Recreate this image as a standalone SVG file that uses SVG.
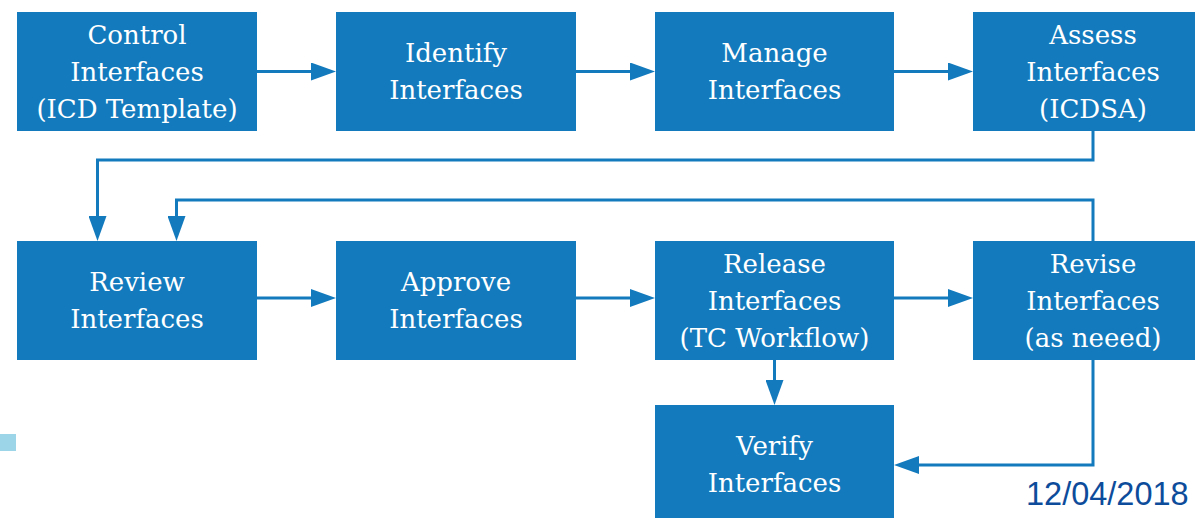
<svg xmlns="http://www.w3.org/2000/svg" width="1195" height="518" viewBox="0 0 1195 518">
<style>
.box{fill:#127abd;}
.t{fill:#ffffff;font-family:"DejaVu Serif","Liberation Serif",serif;font-size:26px;text-anchor:middle;}
.c{fill:none;stroke:#127abd;stroke-width:3;}
.date{fill:#0d4c9b;font-family:"Liberation Sans",Arial,sans-serif;font-size:32.5px;}
</style>
<defs>
<marker id="ah" viewBox="0 0 25 18" refX="15" refY="9" markerWidth="25" markerHeight="18" markerUnits="userSpaceOnUse" orient="auto">
<path d="M0,0 L25,9 L0,18 z" fill="#127abd"/>
</marker>
</defs>
<rect x="0" y="434" width="16" height="17" fill="#9dd5e8"/>
<g id="connectors">
<path class="c" d="M257,71.5 H326" marker-end="url(#ah)"/>
<path class="c" d="M576,71.5 H645" marker-end="url(#ah)"/>
<path class="c" d="M894,71.5 H963" marker-end="url(#ah)"/>
<path class="c" d="M1093,131 V160 H97.5 V231" marker-end="url(#ah)"/>
<path class="c" d="M1093,241 V200 H176.5 V231" marker-end="url(#ah)"/>
<path class="c" d="M257,298 H326" marker-end="url(#ah)"/>
<path class="c" d="M576,298 H645" marker-end="url(#ah)"/>
<path class="c" d="M894,298 H963" marker-end="url(#ah)"/>
<path class="c" d="M774.5,360 V395" marker-end="url(#ah)"/>
<path class="c" d="M1093,360 V465 H904" marker-end="url(#ah)"/>
</g>
<g id="control">
<rect class="box" x="17" y="12" width="240" height="119"/>
<text class="t" x="137" y="43.5">Control</text>
<text class="t" x="137" y="80.5">Interfaces</text>
<text class="t" x="137" y="117.5">(ICD Template)</text>
</g>
<g id="identify">
<rect class="box" x="336" y="12" width="240" height="119"/>
<text class="t" x="456" y="62">Identify</text>
<text class="t" x="456" y="99">Interfaces</text>
</g>
<g id="manage">
<rect class="box" x="655" y="12" width="239" height="119"/>
<text class="t" x="774.5" y="62">Manage</text>
<text class="t" x="774.5" y="99">Interfaces</text>
</g>
<g id="assess">
<rect class="box" x="973" y="12" width="240" height="119"/>
<text class="t" x="1093" y="43.5">Assess</text>
<text class="t" x="1093" y="80.5">Interfaces</text>
<text class="t" x="1093" y="117.5">(ICDSA)</text>
</g>
<g id="review">
<rect class="box" x="17" y="241" width="240" height="119"/>
<text class="t" x="137" y="291">Review</text>
<text class="t" x="137" y="328">Interfaces</text>
</g>
<g id="approve">
<rect class="box" x="336" y="241" width="240" height="119"/>
<text class="t" x="456" y="291">Approve</text>
<text class="t" x="456" y="328">Interfaces</text>
</g>
<g id="release">
<rect class="box" x="655" y="241" width="239" height="119"/>
<text class="t" x="774.5" y="272.5">Release</text>
<text class="t" x="774.5" y="309.5">Interfaces</text>
<text class="t" x="774.5" y="346.5">(TC Workflow)</text>
</g>
<g id="revise">
<rect class="box" x="973" y="241" width="240" height="119"/>
<text class="t" x="1093" y="272.5">Revise</text>
<text class="t" x="1093" y="309.5">Interfaces</text>
<text class="t" x="1093" y="346.5">(as neeed)</text>
</g>
<g id="verify">
<rect class="box" x="655" y="405" width="239" height="119"/>
<text class="t" x="774.5" y="454.5">Verify</text>
<text class="t" x="774.5" y="491.5">Interfaces</text>
</g>
<text class="date" x="1026" y="505">12/04/2018</text>
</svg>
